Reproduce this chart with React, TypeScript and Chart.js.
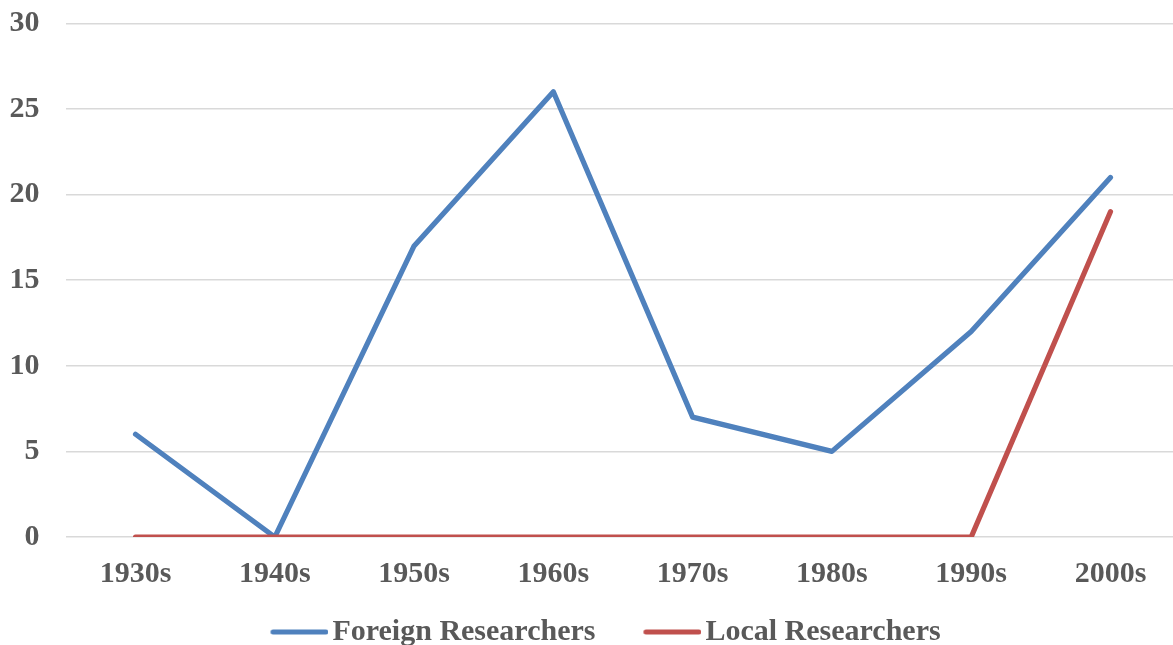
import React, { useEffect, useRef } from "react";
import { Chart, registerables } from "chart.js";

Chart.register(...registerables);

const categories = ["1930s", "1940s", "1950s", "1960s", "1970s", "1980s", "1990s", "2000s"];
const foreignResearchers = [6, 0, 17, 26, 7, 5, 12, 21];
const localResearchers = [0, 0, 0, 0, 0, 0, 0, 19];
const seriesNames = ["Foreign Researchers", "Local Researchers"];
const yTicks = { min: 0, max: 30, step: 5 };

const BLUE = "#4F81BD";
const RED = "#C0504D";
const TEXT = "#595959";
const FONT = { family: "'Liberation Serif', 'Times New Roman', serif", size: 30, weight: "bold" as const };

function makeMarker(color: string): HTMLCanvasElement {
  const c = document.createElement("canvas");
  c.width = 112;
  c.height = 10;
  const ctx = c.getContext("2d")!;
  ctx.strokeStyle = color;
  ctx.lineWidth = 5;
  ctx.lineCap = "round";
  ctx.beginPath();
  ctx.moveTo(56.5, 5);
  ctx.lineTo(109.5, 5);
  ctx.stroke();
  return c;
}

export default function App() {
  const ref = useRef<HTMLCanvasElement | null>(null);

  useEffect(() => {
    if (!ref.current) return;
    const chart = new Chart(ref.current, {
      type: "line",
      data: {
        labels: categories,
        datasets: [
          {
            label: seriesNames[0],
            data: foreignResearchers,
            borderColor: BLUE,
            backgroundColor: BLUE,
            borderWidth: 5.2,
            borderCapStyle: "round",
            borderJoinStyle: "round",
            pointRadius: 0,
            pointHoverRadius: 0,
            pointStyle: makeMarker(BLUE),
            tension: 0,
            order: 1,
          },
          {
            label: seriesNames[1],
            data: localResearchers,
            borderColor: RED,
            backgroundColor: RED,
            borderWidth: 5.2,
            borderCapStyle: "round",
            borderJoinStyle: "round",
            pointRadius: 0,
            pointHoverRadius: 0,
            pointStyle: makeMarker(RED),
            tension: 0,
            order: 0,
          },
        ],
      },
      options: {
        responsive: false,
        animation: false,
        layout: { padding: { left: 0, right: 1.9, top: 23.3, bottom: 0 } },
        plugins: {
          tooltip: { enabled: false },
          legend: {
            position: "bottom",
            labels: {
              usePointStyle: true,
              pointStyleWidth: 90,
              padding: 5,
              color: TEXT,
              font: FONT,
              sort: (a: any, b: any) => a.datasetIndex - b.datasetIndex,
            },
          },
        },
        scales: {
          x: {
            offset: true,
            grid: { display: false, drawTicks: false },
            border: { display: false },
            ticks: { color: TEXT, font: FONT, padding: 19, maxRotation: 0 },
            afterFit: (scale: any) => {
              scale.height = 75;
            },
          },
          y: {
            min: yTicks.min,
            max: yTicks.max,
            grid: { color: "#D9D9D9", lineWidth: 1.5, drawTicks: false },
            border: { display: false },
            ticks: { stepSize: yTicks.step, color: TEXT, font: FONT, padding: 26.4 },
            afterFit: (scale: any) => {
              scale.width = 77.9;
              scale.paddingTop = 0;
              scale.paddingBottom = 0;
            },
          },
        },
      },
    });
    return () => chart.destroy();
  }, []);

  return (
    <div
      style={{
        position: "fixed",
        left: 0,
        top: 0,
        width: 1173,
        height: 645,
        overflow: "hidden",
        background: "#fff",
      }}
    >
      <canvas
        ref={ref}
        width={1194}
        height={657}
        style={{ position: "absolute", left: -12.5, top: 0, display: "block" }}
      />
    </div>
  );
}
